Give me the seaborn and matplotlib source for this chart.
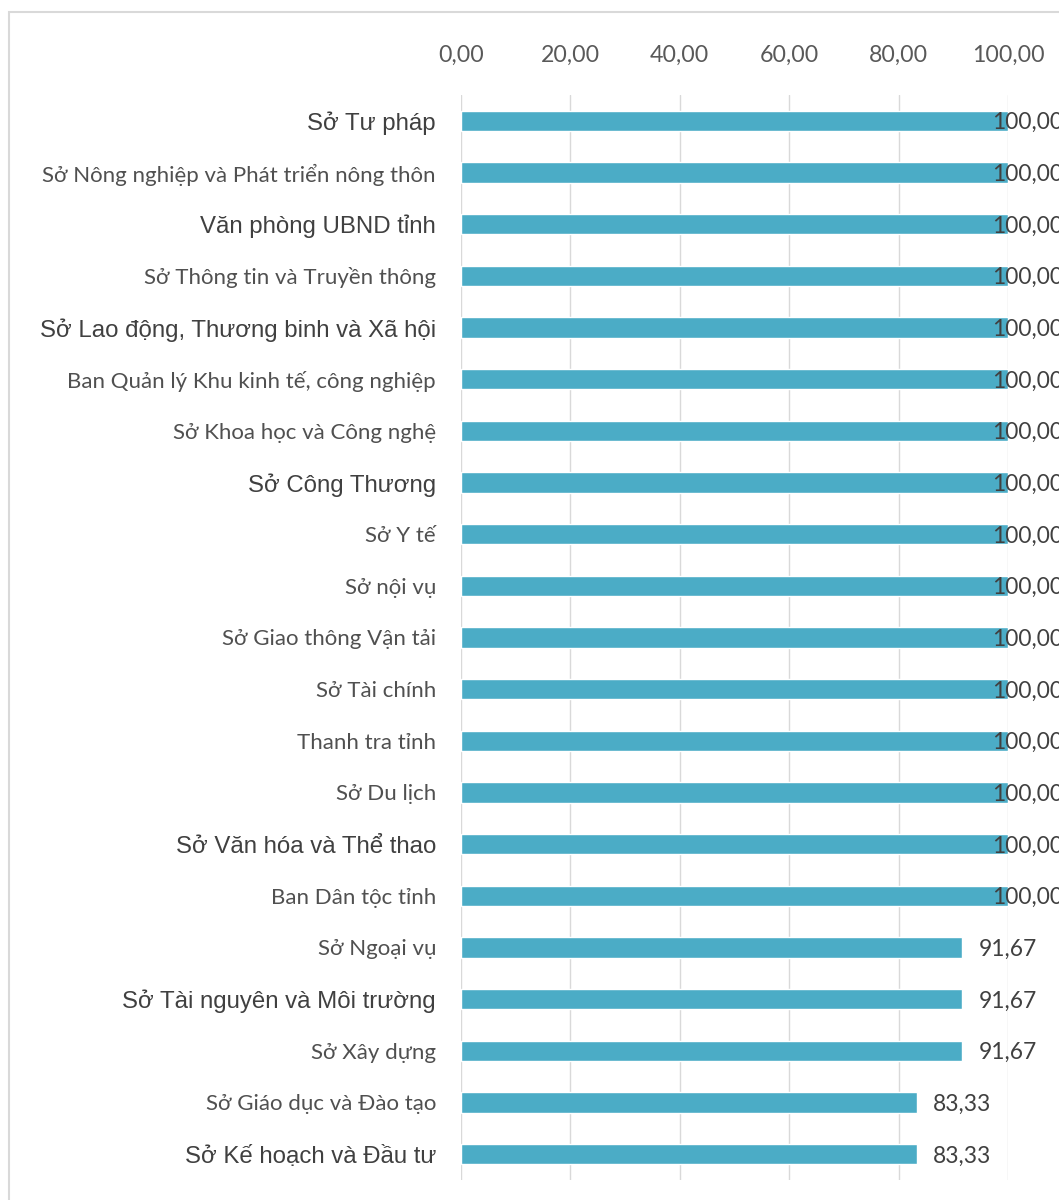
import matplotlib
matplotlib.use("Agg")
import matplotlib.pyplot as plt
import seaborn as sns
import pandas as pd
from matplotlib.patches import Rectangle
from matplotlib.ticker import FixedLocator, FuncFormatter
import matplotlib.transforms as mtransforms

categories = [
    "Sở Tư pháp",
    "Sở Nông nghiệp và Phát triển nông thôn",
    "Văn phòng UBND tỉnh",
    "Sở Thông tin và Truyền thông",
    "Sở Lao động, Thương binh và Xã hội",
    "Ban Quản lý Khu kinh tế, công nghiệp",
    "Sở Khoa học và Công nghệ",
    "Sở Công Thương",
    "Sở Y tế",
    "Sở nội vụ",
    "Sở Giao thông Vận tải",
    "Sở Tài chính",
    "Thanh tra tỉnh",
    "Sở Du lịch",
    "Sở Văn hóa và Thể thao",
    "Ban Dân tộc tỉnh",
    "Sở Ngoại vụ",
    "Sở Tài nguyên và Môi trường",
    "Sở Xây dựng",
    "Sở Giáo dục và Đào tạo",
    "Sở Kế hoạch và Đầu tư",
]
values = [100.00] * 16 + [91.67, 91.67, 91.67, 83.33, 83.33]
x_ticks = [0, 20, 40, 60, 80, 100]

# labels that are rendered in the Arial-like face in the original
arial_like = {
    "Sở Tư pháp", "Văn phòng UBND tỉnh", "Sở Lao động, Thương binh và Xã hội",
    "Sở Công Thương", "Sở Văn hóa và Thể thao", "Sở Tài nguyên và Môi trường",
    "Sở Kế hoạch và Đầu tư",
}

df = pd.DataFrame({"cat": categories, "val": values})

sns.set_theme(style="white")
plt.rcParams["font.family"] = ["Lato", "Noto Sans", "DejaVu Sans"]

text_color = "#505050"
bar_color = "#4BACC6"

fig = plt.figure(figsize=(10.59, 12), dpi=100)
fig.patches.append(Rectangle((9 / 1059, -0.1), 1.2, 1.1 - 12 / 1200,
                             transform=fig.transFigure, fill=False,
                             edgecolor="#D9D9D9", linewidth=1.5, zorder=0))

ax = fig.add_axes([461 / 1059, 1 - 1180 / 1200, (1008 - 461) / 1059, (1180 - 95) / 1200])
sns.barplot(data=df, x="val", y="cat", orient="h", color=bar_color,
            saturation=1, width=0.39, ax=ax, zorder=3)

ax.set_xlim(0, 100)
ax.set_ylim(len(categories) - 0.5, -0.5)
ax.xaxis.set_major_locator(FixedLocator(x_ticks))
ax.xaxis.set_major_formatter(FuncFormatter(lambda v, p: f"{v:.2f}".replace(".", ",")))
ax.xaxis.tick_top()
ax.tick_params(axis="x", length=0, pad=21, labelsize=16.7, labelcolor="#595959")
ax.tick_params(axis="y", length=0, pad=18, labelsize=16, labelcolor=text_color)
ax.set_xlabel("")
ax.set_ylabel("")
ax.grid(axis="x", color="#D9D9D9", linewidth=1, zorder=0)
ax.grid(axis="y", visible=False)
for s in ax.spines.values():
    s.set_visible(False)

for lab in ax.get_yticklabels():
    if lab.get_text() in arial_like:
        lab.set_fontfamily(["Liberation Sans", "Noto Sans", "DejaVu Sans"])
        lab.set_fontsize(17.3)
        lab.set_color("#404040")

for i, v in enumerate(values):
    dx = -16 if v >= 100 else 16
    offset = mtransforms.offset_copy(ax.transData, fig=fig, x=dx * 0.72, y=-2 * 0.72,
                                     units="points")
    ax.text(v, i, f"{v:.2f}".replace(".", ","), transform=offset, ha="left", va="center",
            fontsize=16.4, color="#404040", zorder=5, clip_on=False)

fig.savefig("out.png", dpi=100)
